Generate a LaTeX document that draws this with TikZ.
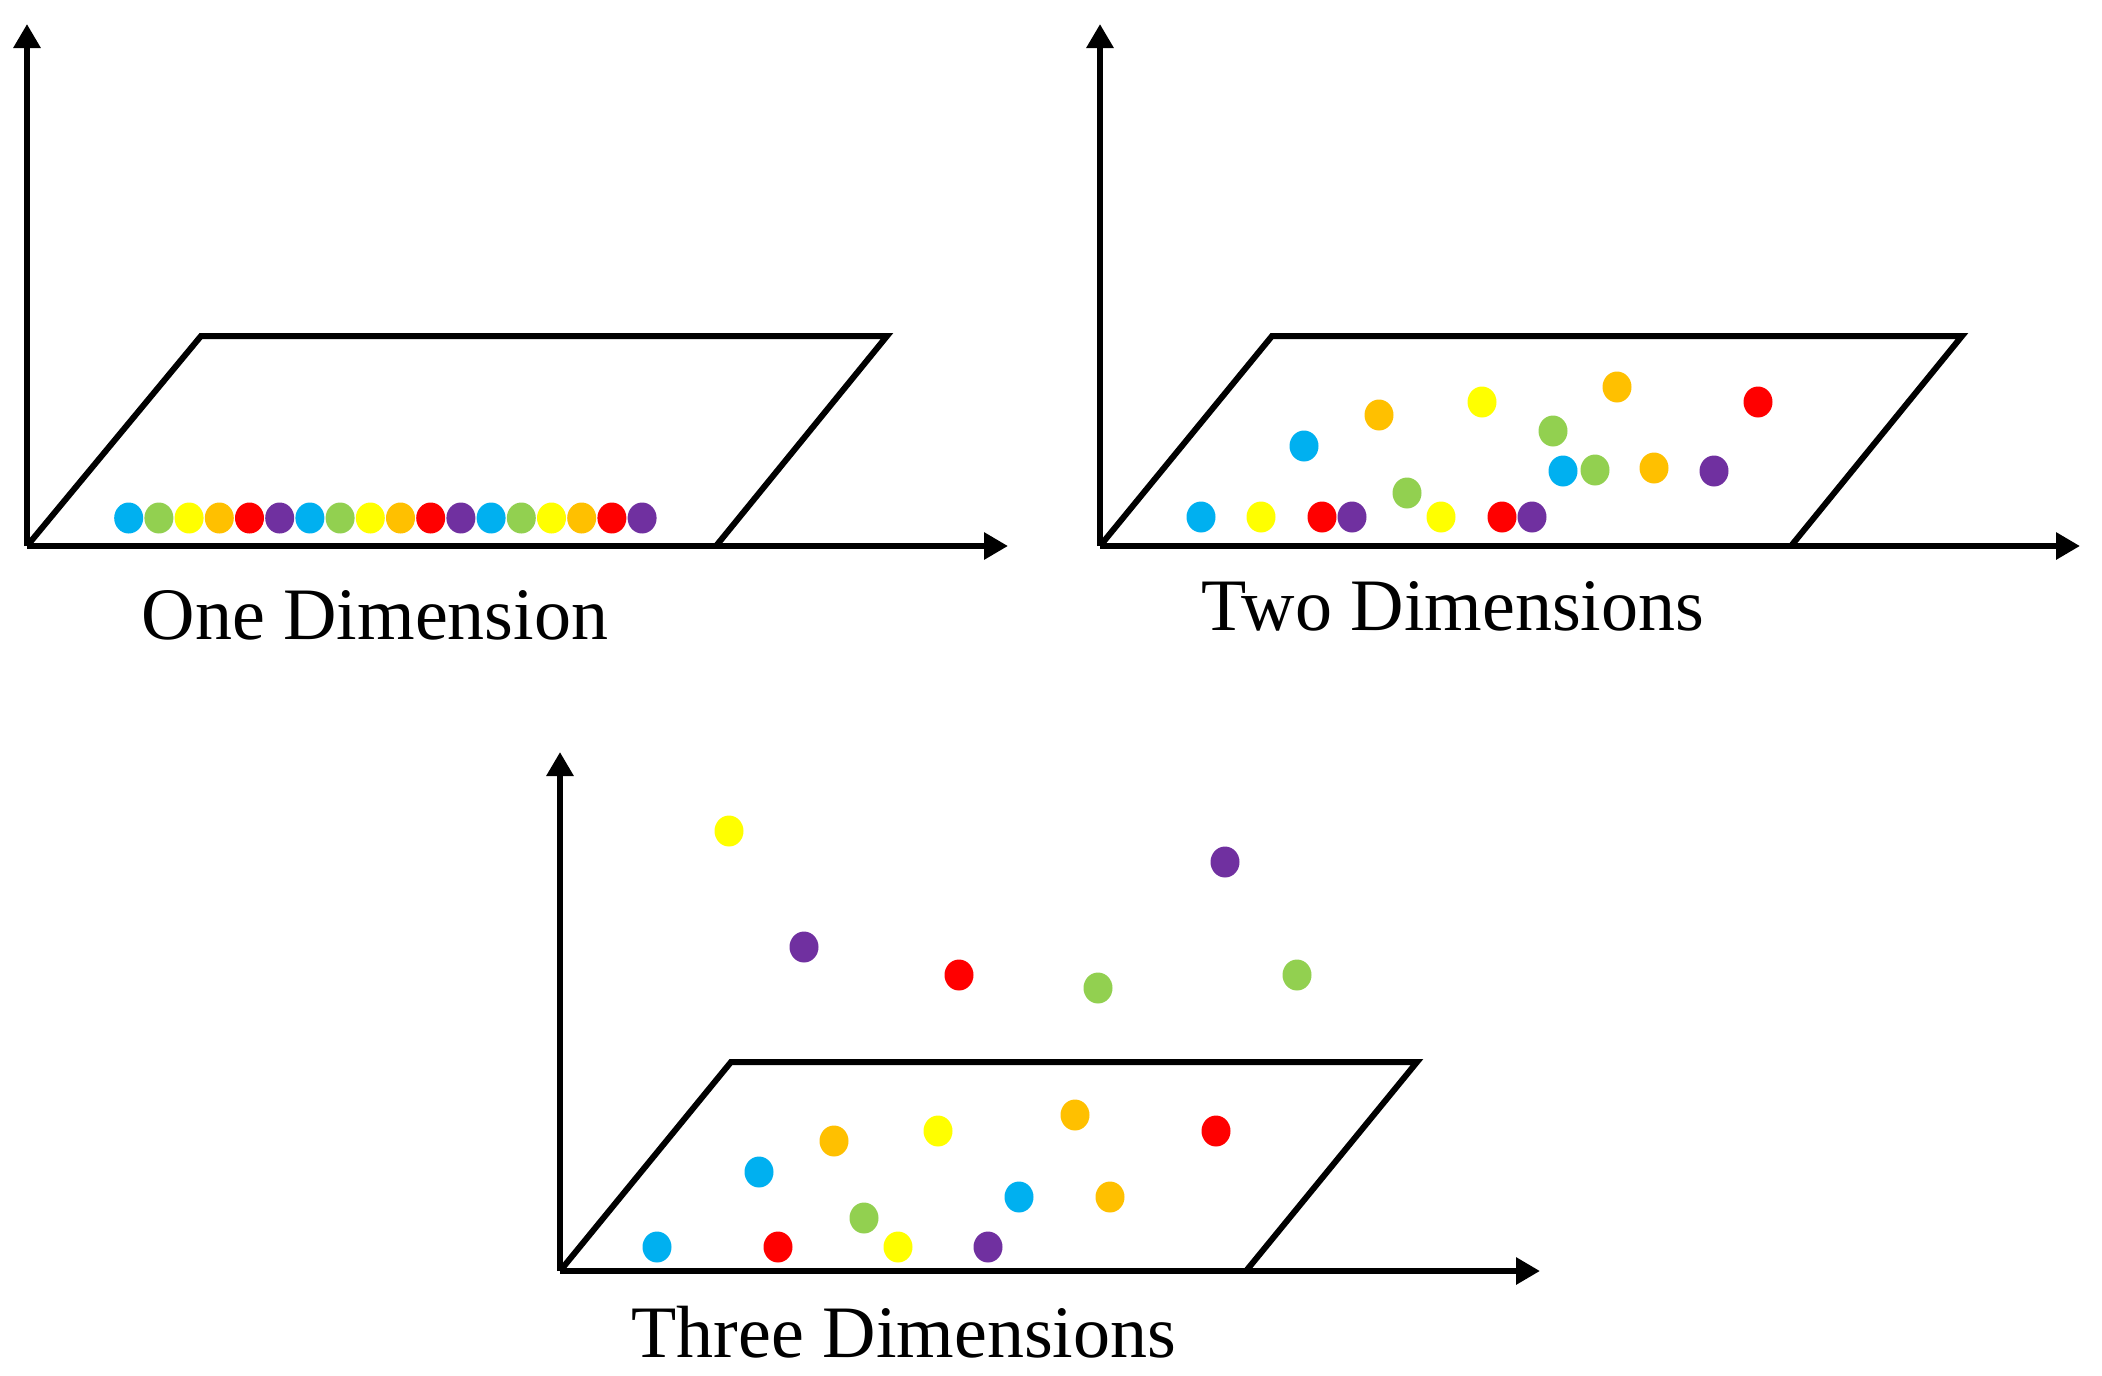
\documentclass[tikz,border=0pt]{standalone}
\usepackage{fontspec}
\setmainfont{Liberation Serif}
\usetikzlibrary{arrows.meta}
\definecolor{cblue}{HTML}{00B0F0}
\definecolor{cgreen}{HTML}{92D050}
\definecolor{cyellow}{HTML}{FFFF00}
\definecolor{corange}{HTML}{FFC000}
\definecolor{cred}{HTML}{FF0000}
\definecolor{cpurple}{HTML}{7030A0}
\tikzset{
  axisline/.style={line width=6pt, -{Triangle[length=24pt,width=26pt]}},
  planeline/.style={line width=6pt, line join=miter},
  lbl/.style={font=\fontsize{74}{88}\selectfont, anchor=base, inner sep=0pt},
}
\newcommand\pdot[3]{\fill[#1] (#2,#3) ellipse [x radius=14.5pt, y radius=15.5pt];}
\begin{document}
\begin{tikzpicture}[x=1pt,y=-1pt]
\fill[white] (0,0) rectangle (2102,1376);
\useasboundingbox (0,0) rectangle (2102,1376);

% ---------- Panel 1 ----------
\coordinate (o1) at (27,546);
\coordinate (y1) at (27,24);
\coordinate (x1) at (1008,546);
\coordinate (a1) at (201,336);
\coordinate (b1) at (887,336);
\coordinate (c1) at (716,546);
\draw[planeline] (o1) -- (a1) -- (b1) -- (c1);
\draw[axisline] (o1) -- (y1);
\draw[axisline] (o1) -- (x1);
\foreach \c [count=\i from 0] in {cblue,cgreen,cyellow,corange,cred,cpurple,cblue,cgreen,cyellow,corange,cred,cpurple,cblue,cgreen,cyellow,corange,cred,cpurple}{
  \pdot{\c}{128.7+30.2*\i}{518}
}
\node[lbl] (t1) at (375,639) {One Dimension};

% ---------- Panel 2 ----------
\coordinate (o2) at (1100,546);
\coordinate (y2) at (1100,24);
\coordinate (x2) at (2080,546);
\coordinate (a2) at (1272,336);
\coordinate (b2) at (1962,336);
\coordinate (c2) at (1791,546);
\draw[planeline] (o2) -- (a2) -- (b2) -- (c2);
\draw[axisline] (o2) -- (y2);
\draw[axisline] (o2) -- (x2);
\pdot{cblue}{1201}{517}
\pdot{cyellow}{1261}{517}
\pdot{cred}{1322}{517}
\pdot{cpurple}{1352}{517}
\pdot{cgreen}{1407}{493}
\pdot{cyellow}{1441}{517}
\pdot{cred}{1502}{517}
\pdot{cpurple}{1532}{517}
\pdot{cblue}{1304}{446}
\pdot{corange}{1379}{415}
\pdot{cyellow}{1482}{402}
\pdot{cgreen}{1553}{431}
\pdot{corange}{1617}{387}
\pdot{cred}{1758}{402}
\pdot{cblue}{1563}{471}
\pdot{cgreen}{1595}{470}
\pdot{corange}{1654}{468}
\pdot{cpurple}{1714}{471}
\node[lbl] (t2) at (1453,630) {Two Dimensions};

% ---------- Panel 3 ----------
\coordinate (o3) at (560,1271);
\coordinate (y3) at (560,752);
\coordinate (x3) at (1540,1271);
\coordinate (a3) at (731,1062);
\coordinate (b3) at (1417,1062);
\coordinate (c3) at (1246,1271);
\draw[planeline] (o3) -- (a3) -- (b3) -- (c3);
\draw[axisline] (o3) -- (y3);
\draw[axisline] (o3) -- (x3);
% above the plane
\pdot{cyellow}{729}{831}
\pdot{cpurple}{1225}{862}
\pdot{cpurple}{804}{947}
\pdot{cred}{959}{975}
\pdot{cgreen}{1098}{988}
\pdot{cgreen}{1297}{975}
% on the plane
\pdot{corange}{834}{1141}
\pdot{cyellow}{938}{1131}
\pdot{corange}{1075}{1115}
\pdot{cred}{1216}{1131}
\pdot{cblue}{759}{1172}
\pdot{cblue}{1019}{1197}
\pdot{corange}{1110}{1197}
\pdot{cgreen}{864}{1218}
\pdot{cblue}{657}{1247}
\pdot{cred}{778}{1247}
\pdot{cyellow}{898}{1247}
\pdot{cpurple}{988}{1247}
\node[lbl] (t3) at (904,1357) {Three Dimensions};
\end{tikzpicture}
\end{document}
